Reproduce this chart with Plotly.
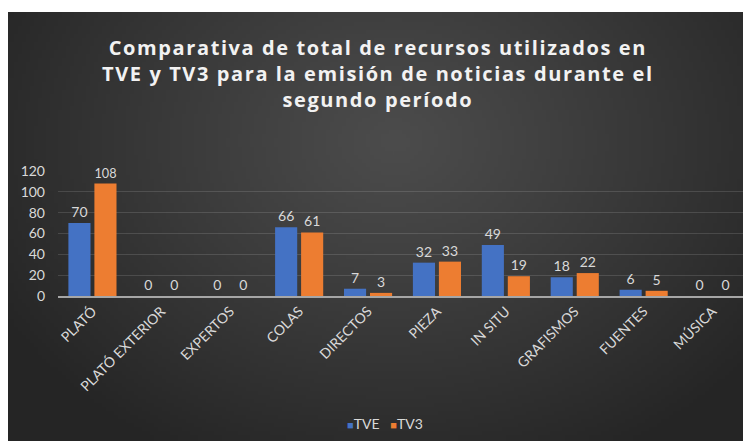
import base64, struct, zlib
import numpy as np
import plotly.graph_objects as go

categories = ["PLATÓ", "PLATÓ EXTERIOR", "EXPERTOS", "COLAS", "DIRECTOS",
              "PIEZA", "IN SITU", "GRAFISMOS", "FUENTES", "MÚSICA"]
series_names = ["TVE", "TV3"]
tve = [70, 0, 0, 66, 7, 32, 49, 18, 6, 0]
tv3 = [108, 0, 0, 61, 3, 33, 19, 22, 5, 0]
y_ticks = [0, 20, 40, 60, 80, 100, 120]
title_lines = ["Comparativa de total de recursos utilizados en",
               "TVE y TV3 para la emisión de noticias durante el",
               "segundo período"]
colors = ["#4472C4", "#ED7D31"]

OFF = 8  # page body margin
W, H = 743, 433
ML, MR, MT, MB = 50, 4, 163, 145
PW = W - ML - MR
PH = H - MT - MB

def px_x(p):
    return (p - OFF - ML) / PW

def px_y(p):
    return (H - MB - (p - OFF)) / PH

# radial gradient background as PNG
def gradient_png(w, h):
    xs = np.linspace(0, 1, w)
    ys = np.linspace(0, 1, h)
    X, Y = np.meshgrid(xs, ys)
    d = np.sqrt(((X - 0.52) / 0.62) ** 2 + ((Y - 0.30) / 0.85) ** 2)
    d = np.clip(d, 0, 1)
    v = 76 - (76 - 37) * d ** 1.1
    img = np.clip(v, 0, 255).astype(np.uint8)
    rgb = np.stack([img, img, img], axis=-1)
    raw = b"".join(b"\x00" + rgb[r].tobytes() for r in range(h))
    def chunk(t, data):
        c = struct.pack(">I", len(data)) + t + data
        return c + struct.pack(">I", zlib.crc32(t + data) & 0xffffffff)
    png = b"\x89PNG\r\n\x1a\n"
    png += chunk(b"IHDR", struct.pack(">IIBBBBB", w, h, 8, 2, 0, 0, 0))
    png += chunk(b"IDAT", zlib.compress(raw, 9))
    png += chunk(b"IEND", b"")
    return "data:image/png;base64," + base64.b64encode(png).decode()

bg = gradient_png(186, 107)

label_color = "#d9d9d9"
font_family = "Lato, 'Open Sans', sans-serif"

fig = go.Figure()
for name, vals, col in zip(series_names, [tve, tv3], colors):
    fig.add_trace(go.Bar(name=name, x=categories, y=vals, marker_color=col,
                         marker_line_width=0,
                         text=vals, textposition="outside", cliponaxis=False,
                         textfont=dict(color=label_color, size=14, family=font_family)))

title_text = "<br>".join(
    '<span style="letter-spacing:1.6px">' + t + "</span>" for t in title_lines)

legend_text = "&nbsp;&nbsp;&nbsp;".join(
    '<span style="color:%s;font-size:11px">■</span>%s' % (c, n)
    for n, c in zip(series_names, colors))

fig.update_layout(
    width=W, height=H,
    margin=dict(l=ML, r=MR, t=MT, b=MB, pad=0),
    paper_bgcolor="white",
    plot_bgcolor="rgba(0,0,0,0)",
    barmode="group",
    bargap=0.245,
    bargroupgap=0.15,
    font=dict(family=font_family, color=label_color, size=13),
    showlegend=False,
    images=[dict(source=bg, xref="paper", yref="paper",
                 x=px_x(8), y=px_y(12),
                 sizex=px_x(751) - px_x(8), sizey=px_y(12) - px_y(441),
                 xanchor="left", yanchor="top", sizing="stretch", layer="below")],
    annotations=[
        dict(text=title_text, xref="paper", yref="paper",
             x=px_x(378), y=px_y(73), xanchor="center", yanchor="middle",
             showarrow=False, align="center",
             font=dict(family="'Open Sans', sans-serif", size=20,
                       color="#f2f2f2", weight="bold")),
        dict(text=legend_text, xref="paper", yref="paper",
             x=px_x(385), y=px_y(423), xanchor="center", yanchor="middle",
             showarrow=False,
             font=dict(family=font_family, size=14, color=label_color)),
    ],
)
fig.update_yaxes(range=[0, 120], tickvals=y_ticks, showgrid=True,
                 gridcolor="rgba(255,255,255,0.13)", gridwidth=1,
                 zeroline=False, showline=False, ticks="",
                 tickfont=dict(size=14, color=label_color, family=font_family),
                 ticklabelstandoff=12)
fig.update_xaxes(showline=True, linecolor="#a6a6a6", linewidth=1.5,
                 tickangle=-45, ticks="",
                 tickfont=dict(size=14, color=label_color, family=font_family))

fig.write_html("out.html")
